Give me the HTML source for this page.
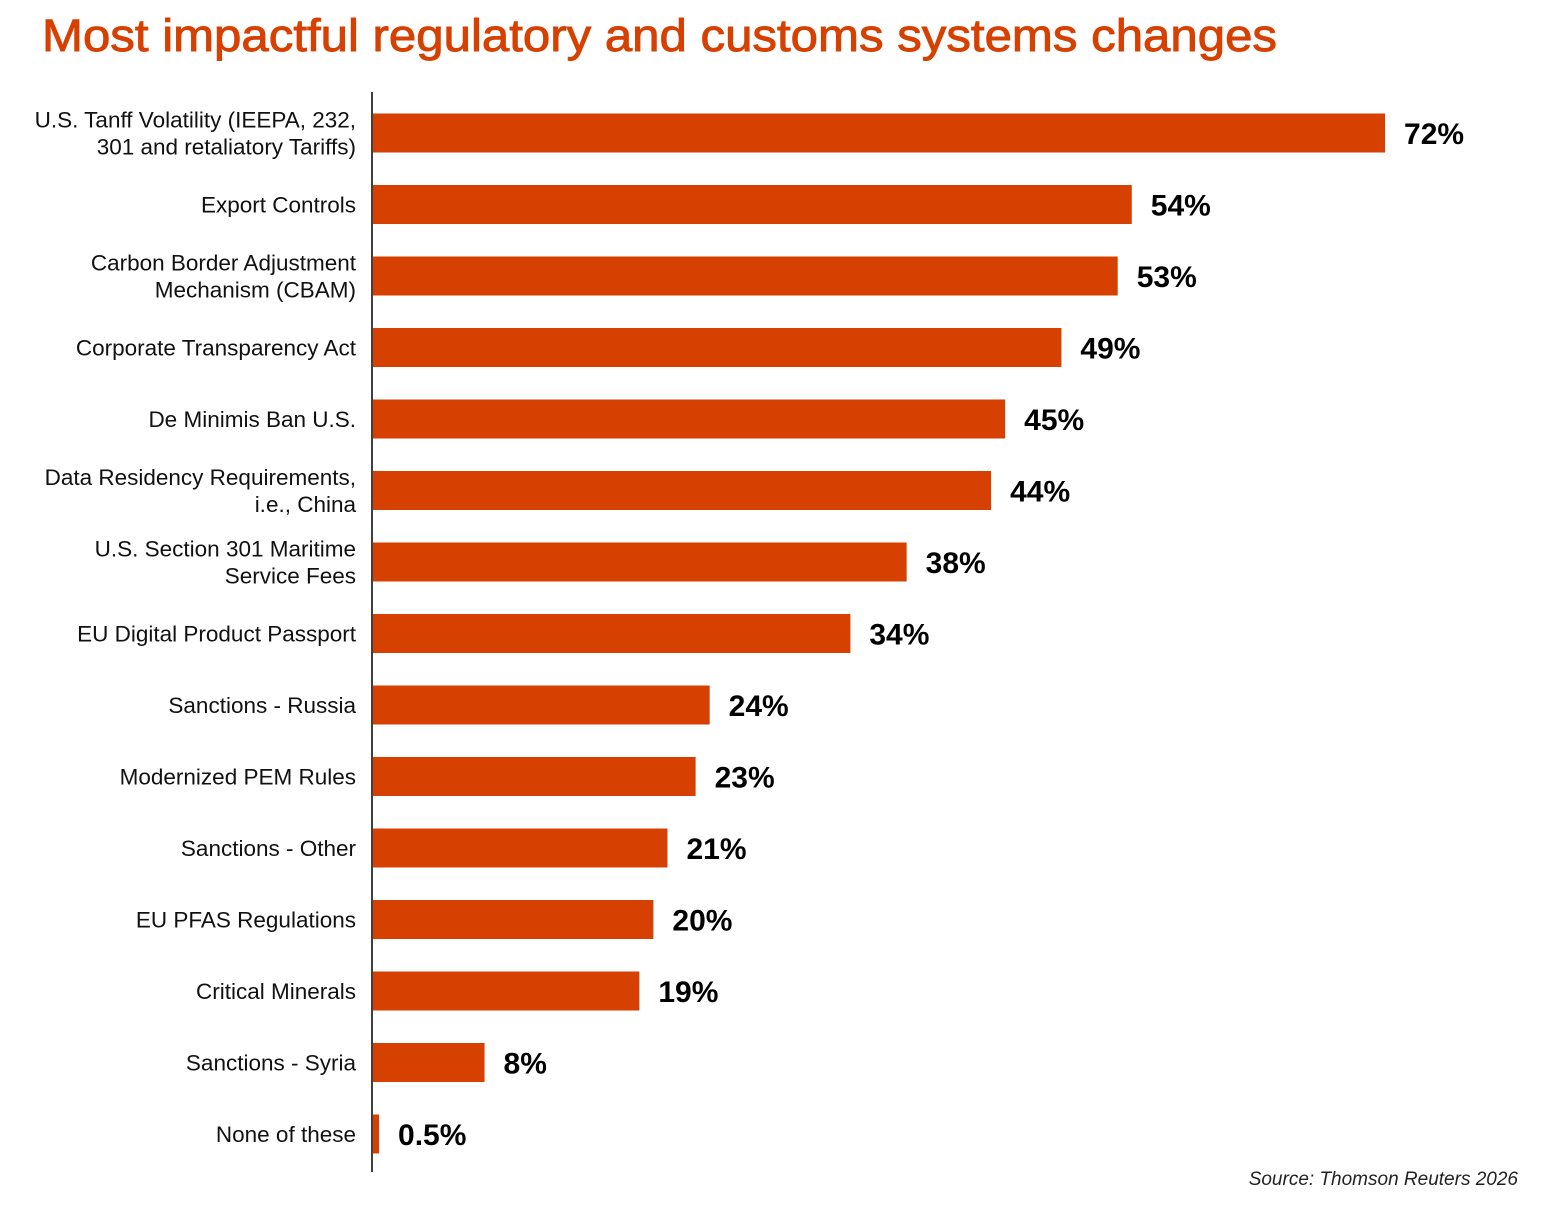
<!DOCTYPE html>
<html><head><meta charset="utf-8"><style>
html,body{margin:0;padding:0;background:#fff;}
svg{display:block;font-family:"Liberation Sans",sans-serif;}
</style></head><body>
<svg id="chart" width="1556" height="1230" viewBox="0 0 1556 1230" xmlns="http://www.w3.org/2000/svg">
<text x="42" y="51" font-size="45" fill="#D64000" stroke="#D64000" stroke-width="0.9" textLength="1235" lengthAdjust="spacingAndGlyphs">Most impactful regulatory and customs systems changes</text>
<line x1="372" y1="92" x2="372" y2="1172" stroke="#000" stroke-width="1.5"/>
<g id="bars"></g>
<text x="1518" y="1185" font-size="19" font-style="italic" text-anchor="end" fill="#222">Source: Thomson Reuters 2026</text>
</svg>
<script>
const categories = [
 ["U.S. Tanff Volatility (IEEPA, 232,","301 and retaliatory Tariffs)"],
 ["Export Controls"],
 ["Carbon Border Adjustment","Mechanism (CBAM)"],
 ["Corporate Transparency Act"],
 ["De Minimis Ban U.S."],
 ["Data Residency Requirements,","i.e., China"],
 ["U.S. Section 301 Maritime","Service Fees"],
 ["EU Digital Product Passport"],
 ["Sanctions - Russia"],
 ["Modernized PEM Rules"],
 ["Sanctions - Other"],
 ["EU PFAS Regulations"],
 ["Critical Minerals"],
 ["Sanctions - Syria"],
 ["None of these"]
];
const values = [72,54,53,49,45,44,38,34,24,23,21,20,19,8,0.5];
const valueLabels = ["72%","54%","53%","49%","45%","44%","38%","34%","24%","23%","21%","20%","19%","8%","0.5%"];

const x0 = 372, pxPer = 14.07;
const xScale = v => x0 + v * pxPer;
const yTop = 133, step = 71.5, barH = 39;
const yScale = i => yTop + i * step;
const NS = "http://www.w3.org/2000/svg";
const g = document.getElementById("bars");
categories.forEach((lines, i) => {
  const cy = yScale(i);
  const r = document.createElementNS(NS, "rect");
  
  
  r.setAttribute("x", x0 + 1);
  r.setAttribute("y", cy - barH / 2);
  r.setAttribute("width", Math.max(0, xScale(values[i]) - x0 - 1));
  r.setAttribute("height", barH);
  r.setAttribute("fill", "#D64000");
  g.appendChild(r);
  const vt = document.createElementNS(NS, "text");
  
  
  vt.setAttribute("x", xScale(values[i]) + 19);
  vt.setAttribute("y", cy + 11);
  vt.setAttribute("font-size", "30");
  vt.setAttribute("font-weight", "bold");
  vt.setAttribute("fill", "#000");
  vt.textContent = valueLabels[i];
  g.appendChild(vt);
  const lh = 27;
  const startY = cy + 8 - (lines.length - 1) * lh / 2;
  lines.forEach((ln, j) => {
    const t = document.createElementNS(NS, "text");
    
    
    t.setAttribute("x", 356);
    t.setAttribute("y", startY + j * lh);
    t.setAttribute("font-size", "22.5");
    t.setAttribute("text-anchor", "end");
    t.setAttribute("fill", "#111");
    t.textContent = ln;
    g.appendChild(t);
  });
});
</script>
</body></html>
